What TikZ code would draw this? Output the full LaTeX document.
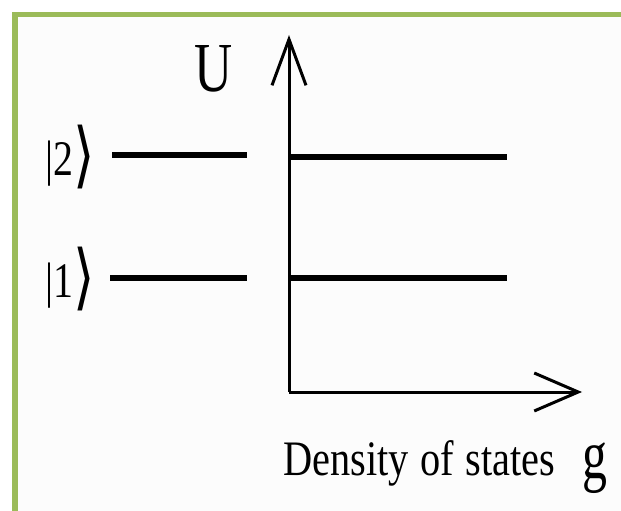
\documentclass[tikz,border=0pt]{standalone}
\usepackage{fontspec}
\setmainfont{Liberation Serif}
\newfontfamily\dvs{DejaVu Sans}
\usetikzlibrary{arrows.meta}
\definecolor{frame}{HTML}{9BBB59}
\definecolor{paper}{HTML}{FCFCFC}
\newcommand{\ketbr}{\raisebox{-3pt}{\scalebox{1.15}[1.2]{\fontsize{48}{52}\selectfont\dvs ⟩}}}
\tikzset{
  axis/.style={line width=3bp,-{Straight Barb[length=46bp,width=34bp,line width=3bp]}},
  level/.style={line width=6bp},
  lab/.style={inner sep=0pt,font=\fontsize{40}{44}\selectfont},
}
\begin{document}
\begin{tikzpicture}[x=1bp,y=-1bp]
\useasboundingbox (0,0) rectangle (621,511);
\clip (0,0) rectangle (621,511);
\fill[white] (0,0) rectangle (621,511);
\draw[frame,line width=5.5bp,fill=paper] (15,14.5) rectangle (660,560);
% axes
\coordinate (O) at (289,392);
\coordinate (Utop) at (289,35);
\coordinate (Gend) at (582,392);
\draw[axis] (O) -- (Utop);
\draw[axis,-{Straight Barb[length=44bp,width=38bp,line width=3bp]}] (O) -- (Gend);
% levels
\coordinate (L2a) at (112,155);
\coordinate (L2b) at (247,155);
\coordinate (L1a) at (110,278);
\coordinate (L1b) at (247,278);
\coordinate (R2a) at (289,157);
\coordinate (R2b) at (507,157);
\coordinate (R1a) at (289,278);
\coordinate (R1b) at (507,278);
\draw[level] (L2a) -- (L2b);
\draw[level] (L1a) -- (L1b);
\draw[level] (R2a) -- (R2b);
\draw[level] (R1a) -- (R1b);
% labels
\node[lab,anchor=west] (k2) at (45,157) {\scalebox{1}[1.25]{|2\ketbr}};
\node[lab,anchor=west] (k1) at (45,279) {\scalebox{1}[1.25]{|1\ketbr}};
\node[inner sep=0pt,anchor=base,font=\fontsize{53}{56}\selectfont] (U) at (214,92) {\scalebox{1}[1.33]{U}};
\node[inner sep=0pt,anchor=base west,font=\fontsize{40.5}{44}\selectfont] (dos) at (283,475) {\scalebox{1}[1.23]{Density\hspace{1.5pt} of\hspace{1.5pt} states}};
\node[inner sep=0pt,anchor=base west,font=\fontsize{50}{56}\selectfont] (g) at (582,478) {\scalebox{1}[1.4]{g}};
\end{tikzpicture}
\end{document}
